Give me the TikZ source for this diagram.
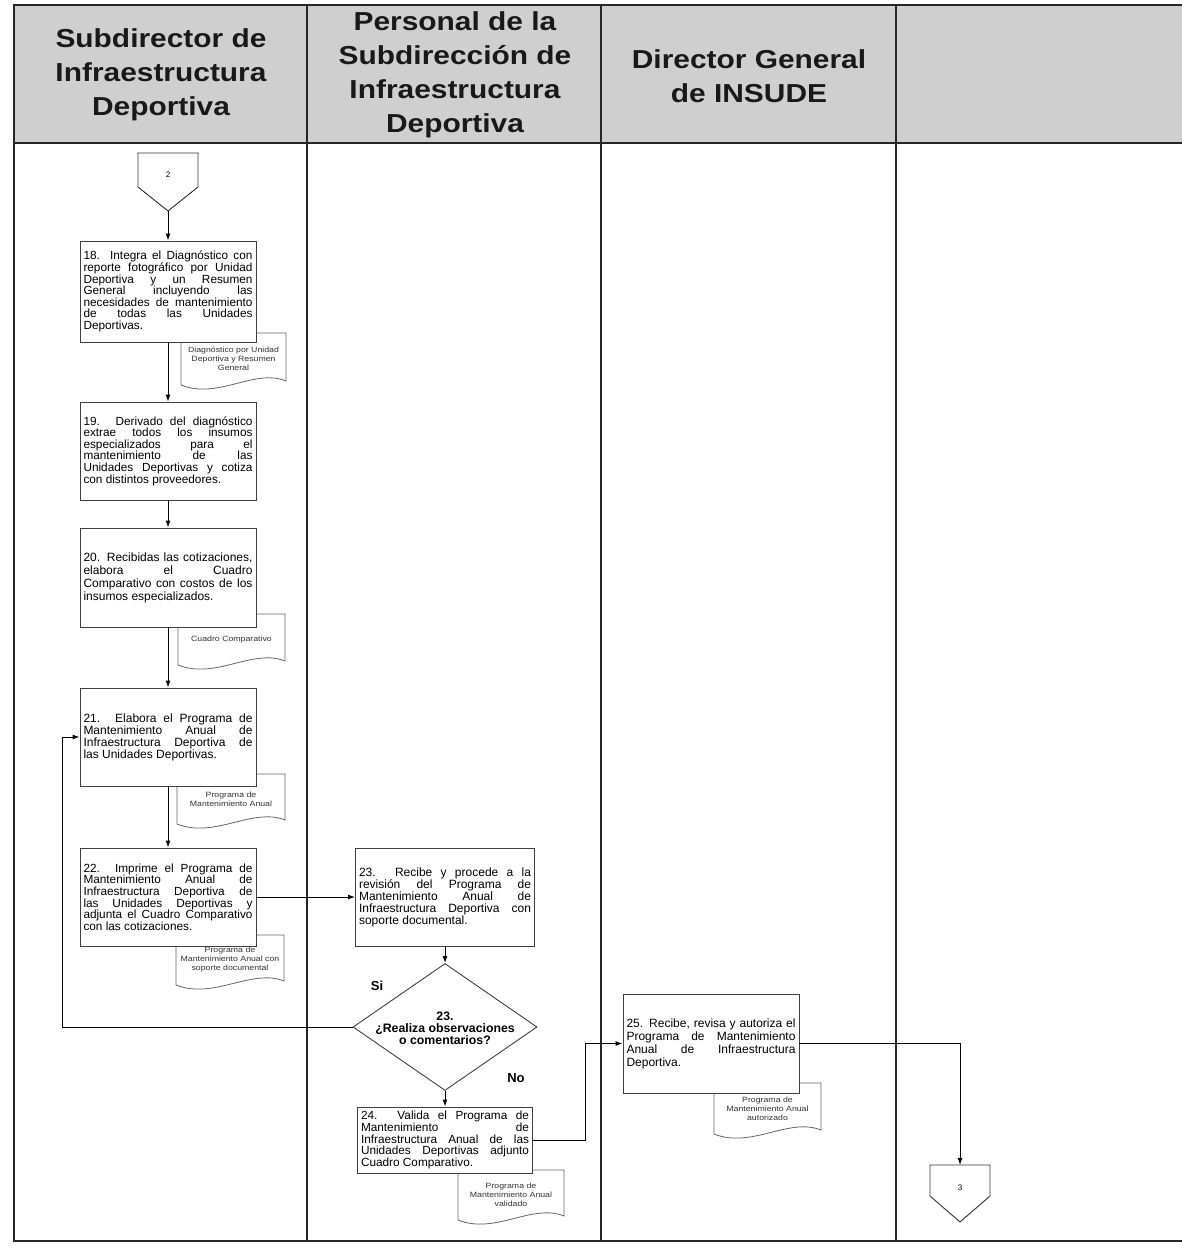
\documentclass[tikz,border=0pt]{standalone}
\usepackage{fontspec}
\setmainfont{Liberation Sans}
\newfontfamily\boxfont{Liberation Sans}
\newfontfamily\hdrfont{Liberation Sans}[FakeStretch=1.15]
\newfontfamily\docfont{Liberation Sans}[FakeStretch=1.15]
\usetikzlibrary{arrows.meta,shapes.geometric}
\setlength{\parindent}{0pt}
\hbadness=10000
\definecolor{hdrgray}{RGB}{207,207,207}

% document symbol: name, x1, y1, x2, y2 (left bottom), text
\newcommand\docshape[6]{%
  \filldraw[docline] (#2,#3) -- (#4,#3) -- (#4,{#5-4})
    .. controls ({#2+0.7*(#4-#2)},{#5-17}) and ({#2+0.35*(#4-#2)},{#5+15}) .. (#2,#5) -- cycle;
  \node[doctext] (#1) at ({(#2+#4)/2},{(#3+#5)/2}) {#6};}

\begin{document}
\begin{tikzpicture}[x=1pt,y=-1pt,
  frame/.style={line width=1.4pt, draw=black!85},
  stepbox/.style={draw=black!75, line width=0.9pt, fill=white, inner xsep=3.5pt, inner ysep=1pt,
    align=justify, font=\boxfont\fontsize{12}{13}\selectfont},
  tight/.style={font=\boxfont\fontsize{11.8}{11.6}\selectfont},
  medium/.style={font=\boxfont\fontsize{12}{12}\selectfont},
  arr/.style={draw=black, line width=1pt, -{Latex[length=7pt,width=5pt]}},
  conn/.style={draw=black!80, line width=0.9pt, fill=white},
  connnum/.style={font=\boxfont\fontsize{8}{9}\selectfont},
  docline/.style={draw=black!60, line width=0.8pt, fill=white},
  doctext/.style={align=center, font=\docfont\fontsize{7.6}{9}\selectfont, text=black!80, inner sep=0},
  hdr/.style={align=center, font=\hdrfont\bfseries\fontsize{26}{34}\selectfont, text=black!90, inner sep=0},
  decision/.style={diamond, draw=black!75, line width=0.9pt, fill=white, inner sep=0,
    minimum width=184pt, minimum height=127pt},
  dectext/.style={align=center, font=\boxfont\bfseries\fontsize{12.3}{12}\selectfont, inner sep=0},
  branch/.style={font=\boxfont\bfseries\fontsize{13}{14}\selectfont, inner sep=0}]

\useasboundingbox (0,0) rectangle (1182,1249);

% swimlane header and frame
\fill[hdrgray] (14,5) rectangle (1182,143);
\draw[frame] (1182,5) -- (14,5) -- (14,1241) -- (1182,1241);
\draw[frame] (14,143) -- (1182,143);
\foreach \x in {307,601,896} \draw[frame] (\x,5) -- (\x,1241);

\node[hdr] (h1) at (161,75) {Subdirector de\\Infraestructura\\Deportiva};
\node[hdr] (h2) at (455,75) {Personal de la\\Subdirección de\\Infraestructura\\Deportiva};
\node[hdr] (h3) at (749,76) {Director General\\de INSUDE};

% documents (behind the activity boxes)
\docshape{d18}{181}{333}{286}{385}{Diagnóstico por Unidad\\Deportiva y Resumen\\General}
\docshape{d20}{178}{614}{285}{665}{Cuadro Comparativo}
\docshape{d21}{177}{774}{285}{824}{Programa de\\Mantenimiento Anual}
\docshape{d22}{176}{935}{284}{985}{Programa de\\Mantenimiento Anual con\\soporte documental}
\docshape{d24}{458}{1170}{564}{1220}{Programa de\\Mantenimiento Anual\\validado}
\docshape{d25}{714}{1083}{821}{1134}{Programa de\\Mantenimiento Anual\\autorizado}

% off-page connector 2
\draw[conn] (138,153) -- (198,153) -- (198,187) -- (168,211) -- (138,187) -- cycle;
\node[connnum] (c2) at (168,175) {2};
\coordinate (c2tip) at (168,211);

% activities of the Subdirector
\node[stepbox, tight, text width=169pt, minimum height=101pt] (b18) at (168,291.5)
  {18. Integra el Diagnóstico con\linebreak reporte fotográfico por Unidad\linebreak Deportiva y un Resumen\linebreak General incluyendo las\linebreak necesidades de mantenimiento\linebreak de todas las Unidades\linebreak Deportivas.};
\node[stepbox, tight, text width=169pt, minimum height=98pt] (b19) at (168,451)
  {19. Derivado del diagnóstico\linebreak extrae todos los insumos\linebreak especializados para el\linebreak mantenimiento de las\linebreak Unidades Deportivas y cotiza\linebreak con distintos proveedores.};
\node[stepbox, text width=169pt, minimum height=99pt] (b20) at (168,577.5)
  {20. Recibidas las cotizaciones,\linebreak elabora el Cuadro\linebreak Comparativo con costos de los\linebreak insumos especializados.};
\node[stepbox, medium, text width=169pt, minimum height=98pt] (b21) at (168,737)
  {21. Elabora el Programa de\linebreak Mantenimiento Anual de\linebreak Infraestructura Deportiva de\linebreak las Unidades Deportivas.};
\node[stepbox, tight, text width=169pt, minimum height=98pt] (b22) at (168,897)
  {22. Imprime el Programa de\linebreak Mantenimiento Anual de\linebreak Infraestructura Deportiva de\linebreak las Unidades Deportivas y\linebreak adjunta el Cuadro Comparativo\linebreak con las cotizaciones.};

% activities of the staff
\node[stepbox, medium, text width=172pt, minimum height=98pt] (b23) at (445,897)
  {23. Recibe y procede a la\linebreak revisión del Programa de\linebreak Mantenimiento Anual de\linebreak Infraestructura Deportiva con\linebreak soporte documental.};
\node[decision] (dia) at (445,1027) {};
\node[dectext] (diat) at (445,1028) {23.\\¿Realiza observaciones\\o comentarios?};
\node[branch] (si) at (377,986) {Si};
\node[branch] (no) at (516,1078) {No};
\node[stepbox, tight, text width=168pt, minimum height=66pt, inner ysep=0pt] (b24) at (445,1140)
  {24. Valida el Programa de\linebreak Mantenimiento de\linebreak Infraestructura Anual de las\linebreak Unidades Deportivas adjunto\linebreak Cuadro Comparativo.};

% activity of the Director General
\node[stepbox, text width=169pt, minimum height=99pt] (b25) at (711,1043.5)
  {25. Recibe, revisa y autoriza el\linebreak Programa de Mantenimiento\linebreak Anual de Infraestructura\linebreak Deportiva.};

% off-page connector 3
\draw[conn] (930,1165) -- (990,1165) -- (990,1196) -- (960,1222) -- (930,1196) -- cycle;
\node[connnum] (c3) at (960,1188) {3};
\coordinate (c3top) at (960,1165);

% flow
\coordinate (jsi) at (62,1027);
\coordinate (jno) at (585,1140);
\draw[arr] (c2tip) -- (b18.north);
\draw[arr] (b18) -- (b19);
\draw[arr] (b19) -- (b20);
\draw[arr] (b20) -- (b21);
\draw[arr] (b21) -- (b22);
\draw[arr] (b22) -- (b23);
\draw[arr] (b23) -- (dia.north);
\draw[arr] (dia.west) -- (jsi) |- (b21.west);
\draw[arr] (dia.south) -- (b24.north);
\draw[arr] (b24.east) -- (jno) |- (b25.west);
\draw[arr] (b25.east) -| (c3top);
\end{tikzpicture}
\end{document}
